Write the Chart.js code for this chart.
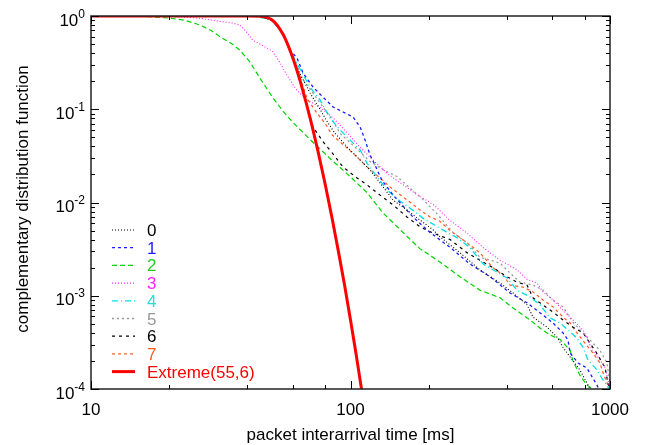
<!DOCTYPE html>
<html>
<head>
<meta charset="utf-8">
<script src="https://cdn.jsdelivr.net/npm/chart.js@4.4.1/dist/chart.umd.min.js"></script>
<style>
html,body{margin:0;padding:0;background:#fff;}
#wrap{width:647px;height:445px;}
</style>
</head>
<body>
<div id="wrap"><canvas id="c" width="647" height="445"></canvas></div>
<script>
// ---------- data ----------
const xTickValues = [10, 100, 1000];
const xTickLabels = ['10', '100', '1000'];
const yTickValues = [1, 0.1, 0.01, 0.001, 0.0001];
const yTickExponents = ['0', '-1', '-2', '-3', '-4'];
const seriesNames = ['0', '1', '2', '3', '4', '5', '6', '7', 'Extreme(55,6)'];

const cdf0 = [[10,1],[40,1],[45,0.99],[50,0.9],[55,0.64],[58.5,0.43],[63.9,0.24],[69.8,0.15],[76.3,0.1],[81,0.075],[87,0.0556],[97,0.0394],[106,0.0308],[119,0.0223],[130,0.0162],[146,0.0106],[165,0.0083],[185,0.0065],[208,0.0051],[221,0.0043],[264,0.0029],[315,0.0019],[377,0.00137],[423,0.00107],[479,0.0008],[505,0.00059],[572,0.00046],[625,0.00036],[659,0.00028],[702,0.00022],[766,0.00016],[815,0.000116],[837,0.0001]];
const cdf1 = [[10,1],[40,1],[45,0.99],[50,0.9],[55,0.64],[58.5,0.43],[62.2,0.355],[65.6,0.245],[71.7,0.173],[78.3,0.135],[85.6,0.106],[93.6,0.0934],[102.3,0.0826],[108.9,0.0645],[113.8,0.0468],[118.9,0.0323],[124.3,0.0252],[132,0.0174],[146,0.012],[162,0.0087],[174,0.007],[202,0.0048],[242,0.0033],[288,0.0022],[345,0.0016],[412,0.00107],[479,0.00084],[552,0.00062],[603,0.00051],[659,0.0004],[689,0.000335],[702,0.000243],[753,0.00019],[815,0.000168],[853,0.000135],[891,0.00011],[905,0.0001]];
const cdf2 = [[10,1],[13,1],[16,0.99],[20,0.95],[23,0.9],[26.3,0.8],[29,0.7],[31.4,0.6],[35,0.5],[37.5,0.43],[41,0.32],[44.8,0.215],[50,0.135],[55,0.095],[60,0.072],[65,0.058],[70,0.047],[76,0.038],[83,0.03],[100,0.0188],[116,0.0127],[133,0.0078],[159,0.0048],[185,0.0032],[221,0.0023],[264,0.0016],[315,0.00115],[377,0.00095],[423,0.00074],[492,0.00055],[537,0.00045],[587,0.00038],[642,0.00034],[702,0.00026],[720,0.0002],[766,0.00014],[815,0.00011],[860,0.0001]];
const cdf3 = [[10,1],[18,1],[22,0.98],[26,0.95],[31,0.88],[35,0.84],[37.5,0.8],[40,0.66],[42,0.55],[46,0.48],[50,0.42],[53,0.33],[57,0.23],[62,0.161],[68,0.126],[76,0.106],[86,0.08],[97,0.056],[109,0.039],[122,0.0286],[140,0.02],[160,0.0154],[180,0.0122],[210,0.0094],[242,0.0064],[281,0.0047],[324,0.0033],[377,0.0024],[438,0.0019],[479,0.0015],[523,0.00137],[552,0.0011],[603,0.0009],[659,0.0007],[720,0.00055],[787,0.00043],[822,0.000335],[853,0.00026],[899,0.00022],[957,0.00017],[982,0.000125],[1000,0.0001]];
const cdf4 = [[10,1],[40,1],[44,0.98],[50,0.9],[55,0.64],[58.5,0.43],[63.9,0.27],[69.8,0.173],[76.3,0.126],[83.4,0.0806],[91.2,0.06],[99.5,0.0468],[108.9,0.0366],[115.8,0.0265],[126.6,0.0188],[138.4,0.0136],[155,0.0104],[169.5,0.0087],[190,0.0068],[221,0.0053],[257,0.0042],[288,0.0033],[324,0.0022],[354,0.0019],[401,0.00155],[438,0.00115],[492,0.00097],[537,0.0008],[587,0.00058],[642,0.00051],[689,0.00043],[746,0.00035],[787,0.00028],[822,0.000205],[891,0.00016],[931,0.00013],[973,0.00011],[990,0.0001]];
const cdf5 = [[10,1],[40,1],[45,0.99],[50,0.9],[55,0.64],[58.5,0.43],[63.9,0.23],[71.7,0.149],[78.3,0.106],[85.6,0.075],[91.2,0.055],[102.3,0.041],[118.9,0.0275],[133.4,0.0225],[151,0.019],[169.5,0.0143],[190,0.0108],[216,0.0075],[248,0.0048],[281,0.0037],[315,0.0026],[377,0.00224],[412,0.00175],[450,0.0014],[505,0.0013],[552,0.00115],[603,0.0009],[659,0.00076],[720,0.00052],[787,0.0004],[860,0.00031],[915,0.00026],[973,0.00019],[1000,0.000116]];
const cdf6 = [[10,1],[40,1],[45,0.99],[50,0.9],[55,0.64],[58.5,0.43],[63.9,0.2],[67,0.13],[71.7,0.0645],[78.3,0.045],[85,0.034],[93.6,0.024],[106,0.0183],[116,0.0154],[130,0.012],[146,0.0094],[165,0.007],[185,0.0055],[208,0.0047],[242,0.004],[281,0.0029],[315,0.0024],[354,0.002],[401,0.0016],[438,0.0014],[479,0.0013],[505,0.00095],[537,0.00084],[603,0.00067],[659,0.00055],[720,0.00046],[787,0.0004],[837,0.00031],[891,0.00024],[957,0.00017],[982,0.000116],[1000,0.0001]];
const cdf7 = [[10,1],[40,1],[45,0.99],[50,0.9],[55,0.64],[58.5,0.43],[63.9,0.22],[68,0.13],[74.3,0.091],[80,0.07],[84.9,0.053],[97,0.0384],[105.9,0.0308],[115.8,0.024],[130,0.0183],[141.9,0.0147],[159.3,0.0115],[174.3,0.0095],[185.2,0.0083],[202.5,0.007],[221,0.0063],[242,0.005],[281,0.0037],[315,0.0029],[354,0.002],[387,0.00167],[412,0.0013],[462,0.00124],[505,0.0011],[552,0.0009],[603,0.00076],[659,0.00059],[702,0.00051],[746,0.0004],[801,0.00031],[860,0.000243],[915,0.00019],[940,0.00015],[982,0.00011],[1000,0.0001]];
const extreme = [[10,1],[40,1],[45,0.995],[48,0.96],[50,0.9],[52,0.808],[55,0.632],[57,0.512],[60,0.352],[62.5,0.249],[65,0.172],[70,0.079],[75,0.0351],[80,0.0154],[85,0.0067],[90,0.0029],[95,0.00127],[100,0.00055],[105,0.00024],[110,0.000104],[112,0.000075]];

// ---------- styles ----------
const lineColors = ['#000000','#1a1aff','#00d400','#ff22ff','#00e0e0','#999999','#000000','#ff5a1f','#ff0000'];
const textColors = ['#000000','#1a1aff','#22cc22','#ff22ff','#22dddd','#999999','#000000','#ff5a1f','#ff0000'];
const dashes = [[1,2],[3,3],[5,3],[1,2],[6,3,1,3],[2,3],[3,4],[3,3],[]];
const widths = [1.1,1.3,1.2,1.1,1.3,1.3,1.2,1.2,3];
const allData = [cdf0,cdf1,cdf2,cdf3,cdf4,cdf5,cdf6,cdf7,extreme];

const datasets = allData.map((d, i) => ({
  label: seriesNames[i],
  data: d.map(p => ({x: p[0], y: p[1]})),
  borderColor: lineColors[i],
  backgroundColor: lineColors[i],
  borderWidth: widths[i],
  borderDash: dashes[i],
  pointRadius: 0,
  showLine: true,
  fill: false,
  tension: 0,
  cubicInterpolationMode: i === 8 ? 'monotone' : 'default',
  order: i === 8 ? 0 : 1
}));

const FONT = '"Liberation Sans", Arial, Helvetica, sans-serif';

const decor = {
  id: 'decor',
  afterDraw(chart) {
    const ctx = chart.ctx;
    const a = chart.chartArea;
    const xs = chart.scales.x, ys = chart.scales.y;
    ctx.save();
    // frame
    ctx.strokeStyle = '#222';
    ctx.lineWidth = 1.5;
    ctx.setLineDash([]);
    ctx.strokeRect(a.left, a.top, a.right - a.left, a.bottom - a.top);
    // ticks
    ctx.lineWidth = 1;
    ctx.strokeStyle = '#000';
    ctx.beginPath();
    const xMin = [2,4,6,8];
    xTickValues.forEach((v, k) => {
      const px = Math.round(xs.getPixelForValue(v)) + 0.5;
      ctx.moveTo(px, a.bottom); ctx.lineTo(px, a.bottom - 8);
      ctx.moveTo(px, a.top); ctx.lineTo(px, a.top + 8);
      if (k < xTickValues.length - 1) {
        xMin.forEach(m => {
          const q = Math.round(xs.getPixelForValue(v * m)) + 0.5;
          ctx.moveTo(q, a.bottom); ctx.lineTo(q, a.bottom - 4);
          ctx.moveTo(q, a.top); ctx.lineTo(q, a.top + 4);
        });
      }
    });
    yTickValues.forEach((v, k) => {
      const py = Math.round(ys.getPixelForValue(v)) + 0.5;
      ctx.moveTo(a.left, py); ctx.lineTo(a.left + 8, py);
      ctx.moveTo(a.right, py); ctx.lineTo(a.right - 8, py);
      if (k < yTickValues.length - 1) {
        for (let m = 2; m <= 9; m++) {
          const q = Math.round(ys.getPixelForValue(v * m / 10)) + 0.5;
          ctx.moveTo(a.left, q); ctx.lineTo(a.left + 4, q);
          ctx.moveTo(a.right, q); ctx.lineTo(a.right - 4, q);
        }
      }
    });
    ctx.stroke();
    // x tick labels
    ctx.fillStyle = '#000';
    ctx.font = '17px ' + FONT;
    ctx.textAlign = 'center';
    ctx.textBaseline = 'alphabetic';
    xTickValues.forEach((v, k) => {
      ctx.fillText(xTickLabels[k], xs.getPixelForValue(v), a.bottom + 26);
    });
    // y tick labels 10^n
    yTickValues.forEach((v, k) => {
      const py = ys.getPixelForValue(v);
      ctx.font = '12px ' + FONT;
      const sw = ctx.measureText(yTickExponents[k]).width;
      ctx.font = '17px ' + FONT;
      const bw = ctx.measureText('10').width;
      const right = a.left - 6;
      ctx.textAlign = 'left';
      ctx.fillText('10', right - sw - bw, py + 9.5);
      ctx.font = '12px ' + FONT;
      ctx.fillText(yTickExponents[k], right - sw, py + 1.5);
    });
    // axis titles
    ctx.font = '17px ' + FONT;
    ctx.textAlign = 'center';
    ctx.fillText('packet interarrival time [ms]', (a.left + a.right) / 2, 440);
    ctx.save();
    ctx.translate(28, 199);
    ctx.rotate(-Math.PI / 2);
    ctx.fillText('complementary distribution function', 0, 0);
    ctx.restore();
    // legend
    const lx0 = a.left + 21, lx1 = a.left + 44, tx = a.left + 56;
    seriesNames.forEach((name, i) => {
      const cy = 230 + i * 17.7;
      ctx.beginPath();
      ctx.strokeStyle = lineColors[i];
      ctx.lineWidth = widths[i];
      ctx.setLineDash(dashes[i]);
      ctx.moveTo(lx0, cy); ctx.lineTo(lx1, cy);
      ctx.stroke();
      ctx.setLineDash([]);
      ctx.fillStyle = textColors[i];
      ctx.font = '17px ' + FONT;
      ctx.textAlign = 'left';
      ctx.fillText(name, tx, cy + 6);
    });
    ctx.restore();
  }
};

new Chart(document.getElementById('c'), {
  type: 'scatter',
  data: { datasets },
  options: {
    responsive: false,
    devicePixelRatio: 1,
    animation: false,
    layout: { padding: { left: 91, right: 37, top: 16, bottom: 56 } },
    plugins: { legend: { display: false }, tooltip: { enabled: false } },
    scales: {
      x: { type: 'logarithmic', min: 10, max: 1000, display: false },
      y: { type: 'logarithmic', min: 0.0001, max: 1, display: false }
    }
  },
  plugins: [decor]
});
</script>
</body>
</html>
